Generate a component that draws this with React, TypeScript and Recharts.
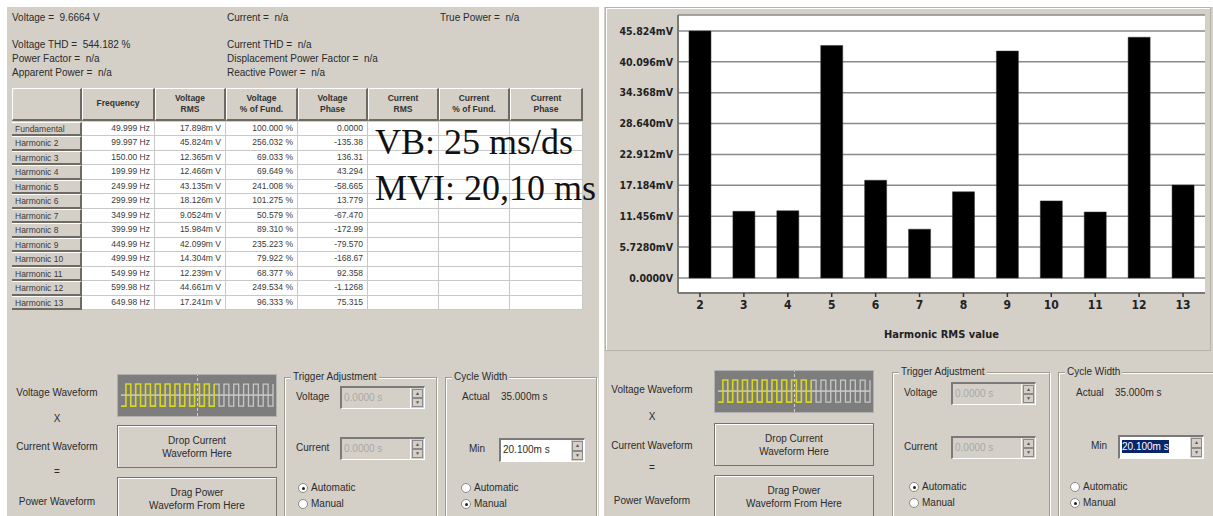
import React from "react";
import {
  BarChart,
  Bar,
  XAxis,
  YAxis,
  CartesianGrid,
  LineChart,
  Line,
  ReferenceLine,
} from "recharts";

// harmonic bar chart (right panel)
const HARMONICS = ["2", "3", "4", "5", "6", "7", "8", "9", "10", "11", "12", "13"];
const HARMONIC_RMS_MV = [
  45.824, 12.365, 12.466, 43.135, 18.126, 9.0524, 15.984, 42.099, 14.304,
  12.239, 44.661, 17.241,
];
const RMS_TICKS = [0, 5.728, 11.456, 17.184, 22.912, 28.64, 34.368, 40.096, 45.824];
const RMS_TICK_LABELS = [
  "0.0000V",
  "5.7280mV",
  "11.456mV",
  "17.184mV",
  "22.912mV",
  "28.640mV",
  "34.368mV",
  "40.096mV",
  "45.824mV",
];

// harmonic table (left panel)
const ROW_NAMES = [
  "Fundamental",
  "Harmonic 2",
  "Harmonic 3",
  "Harmonic 4",
  "Harmonic 5",
  "Harmonic 6",
  "Harmonic 7",
  "Harmonic 8",
  "Harmonic 9",
  "Harmonic 10",
  "Harmonic 11",
  "Harmonic 12",
  "Harmonic 13",
];
const FREQUENCY = [
  "49.999 Hz", "99.997 Hz", "150.00 Hz", "199.99 Hz", "249.99 Hz", "299.99 Hz",
  "349.99 Hz", "399.99 Hz", "449.99 Hz", "499.99 Hz", "549.99 Hz", "599.98 Hz",
  "649.98 Hz",
];
const VOLTAGE_RMS = [
  "17.898m V", "45.824m V", "12.365m V", "12.466m V", "43.135m V", "18.126m V",
  "9.0524m V", "15.984m V", "42.099m V", "14.304m V", "12.239m V", "44.661m V",
  "17.241m V",
];
const VOLTAGE_PCT = [
  "100.000 %", "256.032 %", "69.033 %", "69.649 %", "241.008 %", "101.275 %",
  "50.579 %", "89.310 %", "235.223 %", "79.922 %", "68.377 %", "249.534 %",
  "96.333 %",
];
const VOLTAGE_PHASE = [
  "0.0000", "-135.38", "136.31", "43.294", "-58.665", "13.779", "-67.470",
  "-172.99", "-79.570", "-168.67", "92.358", "-1.1268", "75.315",
];
const HEADERS = [
  [""],
  ["Frequency"],
  ["Voltage", "RMS"],
  ["Voltage", "% of Fund."],
  ["Voltage", "Phase"],
  ["Current", "RMS"],
  ["Current", "% of Fund."],
  ["Current", "Phase"],
];

// square-wave levels for the little waveform preview
const WAVE_LEVELS = [
  0, 1, 0, 1, 0, 1, 0, 1, 0, 1, 0, 1, 0, 1, 0, 1, 0, 1, 0, 1, 0, 1, 0, 1, 0, 1,
  0, 1, 0, 1, 0, 1,
];
const WAVE_LIT = 19;

const GRAY = "#d4d0c8";
const UI_FONT = "'Liberation Sans', Arial, sans-serif";
const TXT = "#2b2b2b";

const COL_X = [12, 82, 155, 226, 298, 368, 439, 510, 583];
const HEAD_TOP = 88;
const HEAD_H = 33;
const ROW_H = 14.46;

const T = ({
  x,
  y,
  children,
  style,
}: {
  x: number;
  y: number;
  children: React.ReactNode;
  style?: React.CSSProperties;
}) => (
  <div
    style={{
      position: "absolute",
      left: x,
      top: y - 7,
      lineHeight: "14px",
      fontSize: 10,
      fontFamily: UI_FONT,
      color: TXT,
      whiteSpace: "pre",
      ...style,
    }}
  >
    {children}
  </div>
);

const box = (x: number, y: number, w: number, h: number): React.CSSProperties => ({
  position: "absolute",
  left: x,
  top: y,
  width: w,
  height: h,
  boxSizing: "border-box",
});

function Radio({ x, y, on, label }: { x: number; y: number; on: boolean; label: string }) {
  return (
    <>
      <div
        style={{
          ...box(x, y - 5, 10, 10),
          borderRadius: 5,
          background: "#fff",
          border: "1px solid #8a8a8a",
        }}
      >
        {on && (
          <div
            style={{ ...box(2.5, 2.5, 3, 3), borderRadius: 2, background: "#222" }}
          />
        )}
      </div>
      <T x={x + 13} y={y}>{label}</T>
    </>
  );
}

function Field({
  x,
  y,
  w,
  h,
  text,
  disabled,
  selected,
}: {
  x: number;
  y: number;
  w: number;
  h: number;
  text: string;
  disabled?: boolean;
  selected?: boolean;
}) {
  return (
    <div
      style={{
        ...box(x, y, w, h),
        background: disabled ? GRAY : "#fff",
        borderTop: "2px solid #7a7a7a",
        borderLeft: "2px solid #7a7a7a",
        borderRight: "1px solid #fff",
        borderBottom: "1px solid #fff",
      }}
    >
      <div
        style={{
          position: "absolute",
          left: 2,
          top: 3,
          fontSize: 10,
          lineHeight: "13px",
          fontFamily: UI_FONT,
          color: disabled ? "#a8a8a8" : TXT,
          background: selected ? "#0a246a" : "transparent",
          ...(selected ? { color: "#fff" } : {}),
          whiteSpace: "pre",
        }}
      >
        {text}
      </div>
      <div
        style={{
          ...box(w - 17, 0, 13, h - 3),
          background: GRAY,
          borderLeft: "1px solid #fff",
        }}
      >
        <div style={{ ...box(1, 1, 11, (h - 5) / 2), border: "1px solid #8a8a8a", fontSize: 5, textAlign: "center", lineHeight: `${(h - 7) / 2}px`, color: "#555" }}>▲</div>
        <div style={{ ...box(1, (h - 3) / 2, 11, (h - 5) / 2), border: "1px solid #8a8a8a", fontSize: 5, textAlign: "center", lineHeight: `${(h - 7) / 2}px`, color: "#555" }}>▼</div>
      </div>
    </div>
  );
}

function Group({ x, y, w, h, title }: { x: number; y: number; w: number; h: number; title: string }) {
  return (
    <>
      <div
        style={{
          ...box(x, y, w, h),
          border: "1px solid #a09c94",
          boxShadow: "inset 1px 1px #fff, 1px 1px #fff",
        }}
      />
      <T x={x + 7} y={y} style={{ background: GRAY, padding: "0 2px" }}>{title}</T>
    </>
  );
}

function Waveform({ x, y, w, h }: { x: number; y: number; w: number; h: number }) {
  const data = WAVE_LEVELS.map((v, i) => ({
    i,
    lit: i <= WAVE_LIT ? v : null,
    dim: i >= WAVE_LIT ? v : null,
  }));
  return (
    <div
      style={{
        ...box(x, y, w, h),
        background: "#7d7d7d",
        border: "1px solid #b0b0b0",
      }}
    >
      <LineChart width={w - 2} height={h - 2} data={data} margin={{ top: 0, right: 3, bottom: 0, left: 3 }}>
        <XAxis dataKey="i" type="number" domain={[0, WAVE_LEVELS.length - 1]} hide />
        <YAxis domain={[-0.45, 1.41]} hide />
        <ReferenceLine y={0.5} stroke="#f4f4f4" strokeWidth={1} />
        <ReferenceLine x={15.6} stroke="#cfcfcf" strokeDasharray="3 2" />
        <Line dataKey="dim" type="stepAfter" stroke="#c8c8c8" strokeWidth={1.3} dot={false} isAnimationActive={false} />
        <Line dataKey="lit" type="stepAfter" stroke="#d8d820" strokeWidth={1.6} dot={false} isAnimationActive={false} />
      </LineChart>
    </div>
  );
}

function DropBox({ x, y, w, h, lines }: { x: number; y: number; w: number; h: number; lines: string[] }) {
  return (
    <div
      style={{
        ...box(x, y, w, h),
        border: "1px solid #77736b",
        boxShadow: "inset 1px 1px #fff",
        fontFamily: UI_FONT,
        fontSize: 10,
        color: TXT,
        textAlign: "center",
        paddingTop: 8,
        lineHeight: "13px",
      }}
    >
      {lines.map((l) => (
        <div key={l}>{l}</div>
      ))}
    </div>
  );
}

type ControlsLayout = {
  labelX: number;
  labelY: number[];
  wave: [number, number];
  drop: number;
  drag: number;
  trig: [number, number, number];
  trigFieldX: number;
  trigFieldY: [number, number];
  cyc: [number, number];
  actual: [number, number];
  minX: number;
  minField: [number, number];
  radioTrigX: number;
  radioCycX: number;
  radioY: [number, number];
  selected: boolean;
};

function Controls({ L }: { L: ControlsLayout }) {
  return (
    <>
      <T x={L.labelX - 50} y={L.labelY[0]} style={{ width: 100, textAlign: "center" }}>Voltage Waveform</T>
      <T x={L.labelX - 50} y={L.labelY[1]} style={{ width: 100, textAlign: "center" }}>X</T>
      <T x={L.labelX - 50} y={L.labelY[2]} style={{ width: 100, textAlign: "center" }}>Current Waveform</T>
      <T x={L.labelX - 50} y={L.labelY[3]} style={{ width: 100, textAlign: "center" }}>=</T>
      <T x={L.labelX - 50} y={L.labelY[4]} style={{ width: 100, textAlign: "center" }}>Power Waveform</T>
      <Waveform x={L.wave[0]} y={L.wave[1]} w={160} h={43} />
      <DropBox x={L.wave[0]} y={L.drop} w={160} h={43} lines={["Drop Current", "Waveform Here"]} />
      <DropBox x={L.wave[0]} y={L.drag} w={160} h={50} lines={["Drag Power", "Waveform From Here"]} />
      <Group x={L.trig[0]} y={L.trig[2]} w={L.trig[1] - L.trig[0]} h={160} title="Trigger Adjustment" />
      <T x={L.trig[0] + 12} y={L.trigFieldY[0] + 11}>Voltage</T>
      <Field x={L.trigFieldX} y={L.trigFieldY[0]} w={85} h={23} text="0.0000 s" disabled />
      <T x={L.trig[0] + 12} y={L.trigFieldY[1] + 11}>Current</T>
      <Field x={L.trigFieldX} y={L.trigFieldY[1]} w={85} h={23} text="0.0000 s" disabled />
      <Radio x={L.radioTrigX} y={L.radioY[0]} on label="Automatic" />
      <Radio x={L.radioTrigX} y={L.radioY[1]} on={false} label="Manual" />
      <Group x={L.cyc[0]} y={L.trig[2]} w={L.cyc[1] - L.cyc[0]} h={160} title="Cycle Width" />
      <T x={L.actual[0]} y={L.actual[1]}>{"Actual    35.000m s"}</T>
      <T x={L.minX} y={L.minField[1] + 11}>Min</T>
      <Field x={L.minField[0]} y={L.minField[1]} w={86} h={24} text="20.100m s" selected={L.selected} />
      <Radio x={L.radioCycX} y={L.radioY[0]} on={false} label="Automatic" />
      <Radio x={L.radioCycX} y={L.radioY[1]} on label="Manual" />
    </>
  );
}

const LEFT_LAYOUT: ControlsLayout = {
  labelX: 57,
  labelY: [393, 419, 447, 472, 502],
  wave: [117, 374],
  drop: 425,
  drag: 477,
  trig: [284, 437, 377],
  trigFieldX: 340,
  trigFieldY: [386, 437],
  cyc: [445, 597],
  actual: [462, 397],
  minX: 469,
  minField: [499, 438],
  radioTrigX: 298,
  radioCycX: 461,
  radioY: [488, 504],
  selected: false,
};

const RIGHT_LAYOUT: ControlsLayout = {
  labelX: 652,
  labelY: [390, 417, 446, 468, 501],
  wave: [714, 370],
  drop: 423,
  drag: 475,
  trig: [892, 1050, 372],
  trigFieldX: 951,
  trigFieldY: [382, 436],
  cyc: [1058, 1225],
  actual: [1076, 393],
  minX: 1091,
  minField: [1118, 435],
  radioTrigX: 909,
  radioCycX: 1070,
  radioY: [487, 503],
  selected: true,
};

function HarmonicTable() {
  const cols = [ROW_NAMES, FREQUENCY, VOLTAGE_RMS, VOLTAGE_PCT, VOLTAGE_PHASE];
  const cells: React.ReactNode[] = [];
  HEADERS.forEach((h, c) => {
    cells.push(
      <div
        key={`h${c}`}
        style={{
          ...box(COL_X[c], HEAD_TOP, COL_X[c + 1] - COL_X[c], HEAD_H),
          background: GRAY,
          borderTop: "1px solid #fff",
          borderLeft: "1px solid #fff",
          borderRight: "2px solid #6e6a62",
          borderBottom: "2px solid #6e6a62",
          fontFamily: UI_FONT,
          fontSize: 8.5,
          fontWeight: 700,
          color: "#333",
          textAlign: "center",
          lineHeight: "11px",
          paddingTop: h.length > 1 ? 4 : 9,
        }}
      >
        {h.map((s) => (
          <div key={s}>{s}</div>
        ))}
      </div>
    );
  });
  ROW_NAMES.forEach((_, r) => {
    const y = HEAD_TOP + HEAD_H + 1 + r * ROW_H;
    for (let c = 0; c < 8; c++) {
      const v = c < cols.length ? cols[c][r] : "";
      const head = c === 0;
      cells.push(
        <div
          key={`c${r}-${c}`}
          style={{
            ...box(COL_X[c], y, COL_X[c + 1] - COL_X[c], ROW_H),
            background: head ? GRAY : "#fff",
            borderRight: head ? "2px solid #6e6a62" : "1px solid #c8c8c8",
            borderBottom: head ? "2px solid #6e6a62" : "1px solid #c8c8c8",
            borderTop: head ? "1px solid #fff" : undefined,
            fontFamily: UI_FONT,
            fontSize: 8.5,
            color: "#3a3a3a",
            textAlign: head ? "left" : "right",
            paddingLeft: head ? 3 : 0,
            paddingRight: head ? 0 : 4,
            lineHeight: `${ROW_H - 2}px`,
            whiteSpace: "pre",
          }}
        >
          {v}
        </div>
      );
    }
  });
  return <>{cells}</>;
}

function HarmonicChart() {
  const data = HARMONICS.map((h, i) => ({ h, rms: HARMONIC_RMS_MV[i] }));
  const tickFont = {
    fontFamily: "'DejaVu Sans Condensed', 'DejaVu Sans', sans-serif",
    fontWeight: 700,
    fill: "#222",
  };
  return (
    <BarChart
      width={604}
      height={342}
      data={data}
      margin={{ top: 7, right: 5, bottom: 0, left: 0 }}
      barCategoryGap="25%"
    >
      <CartesianGrid
        vertical={false}
        fill="#fff"
        stroke="#8a8a8a"
        strokeWidth={1.5}
        yAxisId="rms"
      />
      <XAxis
        dataKey="h"
        height={57}
        tickSize={4}
        tickMargin={3}
        tickLine={{ stroke: "#333", strokeWidth: 1.5 }}
        axisLine={{ stroke: "#7a7a7a", strokeWidth: 2 }}
        tick={{ ...tickFont, fontSize: 12 }}
        interval={0}
        label={{
          value: "Harmonic RMS value",
          position: "insideBottom",
          offset: 12,
          style: { ...tickFont, fontSize: 11 },
        }}
      />
      <XAxis
        xAxisId="top"
        dataKey="h"
        orientation="top"
        height={0}
        tick={false}
        tickLine={false}
        axisLine={{ stroke: "#8a8a8a", strokeWidth: 1.5 }}
      />
      <YAxis
        yAxisId="rms"
        width={72}
        domain={[-2.783, 48.79]}
        ticks={RMS_TICKS}
        tickSize={3}
        tickMargin={2}
        tickLine={false}
        axisLine={{ stroke: "#7a7a7a", strokeWidth: 2 }}
        tick={{ ...tickFont, fontSize: 10.5 }}
        tickFormatter={(v: number) => RMS_TICK_LABELS[RMS_TICKS.indexOf(v)] ?? ""}
      />
      <YAxis
        yAxisId="right"
        orientation="right"
        width={0}
        tick={false}
        tickLine={false}
        axisLine={{ stroke: "#b0b0b0", strokeWidth: 1 }}
      />
      <Bar
        yAxisId="rms"
        dataKey="rms"
        fill="#000"
        stroke="#333"
        strokeWidth={0.5}
        isAnimationActive={false}
      />
    </BarChart>
  );
}

export default function App() {
  return (
    <div
      style={{
        position: "absolute",
        left: 0,
        top: 0,
        width: 1213,
        height: 516,
        background: "#fff",
        overflow: "hidden",
      }}
    >
      {/* left panel */}
      <div style={{ ...box(7, 7, 592, 520), background: GRAY }} />
      <T x={12} y={18}>{"Voltage =  9.6664 V"}</T>
      <T x={227} y={18}>{"Current =  n/a"}</T>
      <T x={440} y={18}>{"True Power =  n/a"}</T>
      <T x={12} y={45}>{"Voltage THD =  544.182 %"}</T>
      <T x={12} y={59}>{"Power Factor =  n/a"}</T>
      <T x={12} y={73}>{"Apparent Power =  n/a"}</T>
      <T x={227} y={45}>{"Current THD =  n/a"}</T>
      <T x={227} y={59}>{"Displacement Power Factor =  n/a"}</T>
      <T x={227} y={73}>{"Reactive Power =  n/a"}</T>
      <HarmonicTable />
      <Controls L={LEFT_LAYOUT} />

      {/* right panel */}
      <div style={{ ...box(604, 7, 620, 520), background: GRAY }} />
      <div
        style={{
          ...box(605, 7, 606, 344),
          border: "1px solid #b8b4ac",
          boxShadow: "inset 1px 1px #fff",
        }}
      >
        <HarmonicChart />
      </div>
      <Controls L={RIGHT_LAYOUT} />

      {/* annotation typed over the screenshot */}
      {["VB: 25 ms/ds", "MVI: 20,10 ms"].map((s, i) => (
        <div
          key={s}
          style={{
            position: "absolute",
            left: 375,
            top: 124 + i * 46,
            fontFamily: "'Liberation Serif', 'Times New Roman', serif",
            fontSize: 36,
            lineHeight: "36px",
            color: "#111",
            whiteSpace: "pre",
          }}
        >
          {s}
        </div>
      ))}
    </div>
  );
}
